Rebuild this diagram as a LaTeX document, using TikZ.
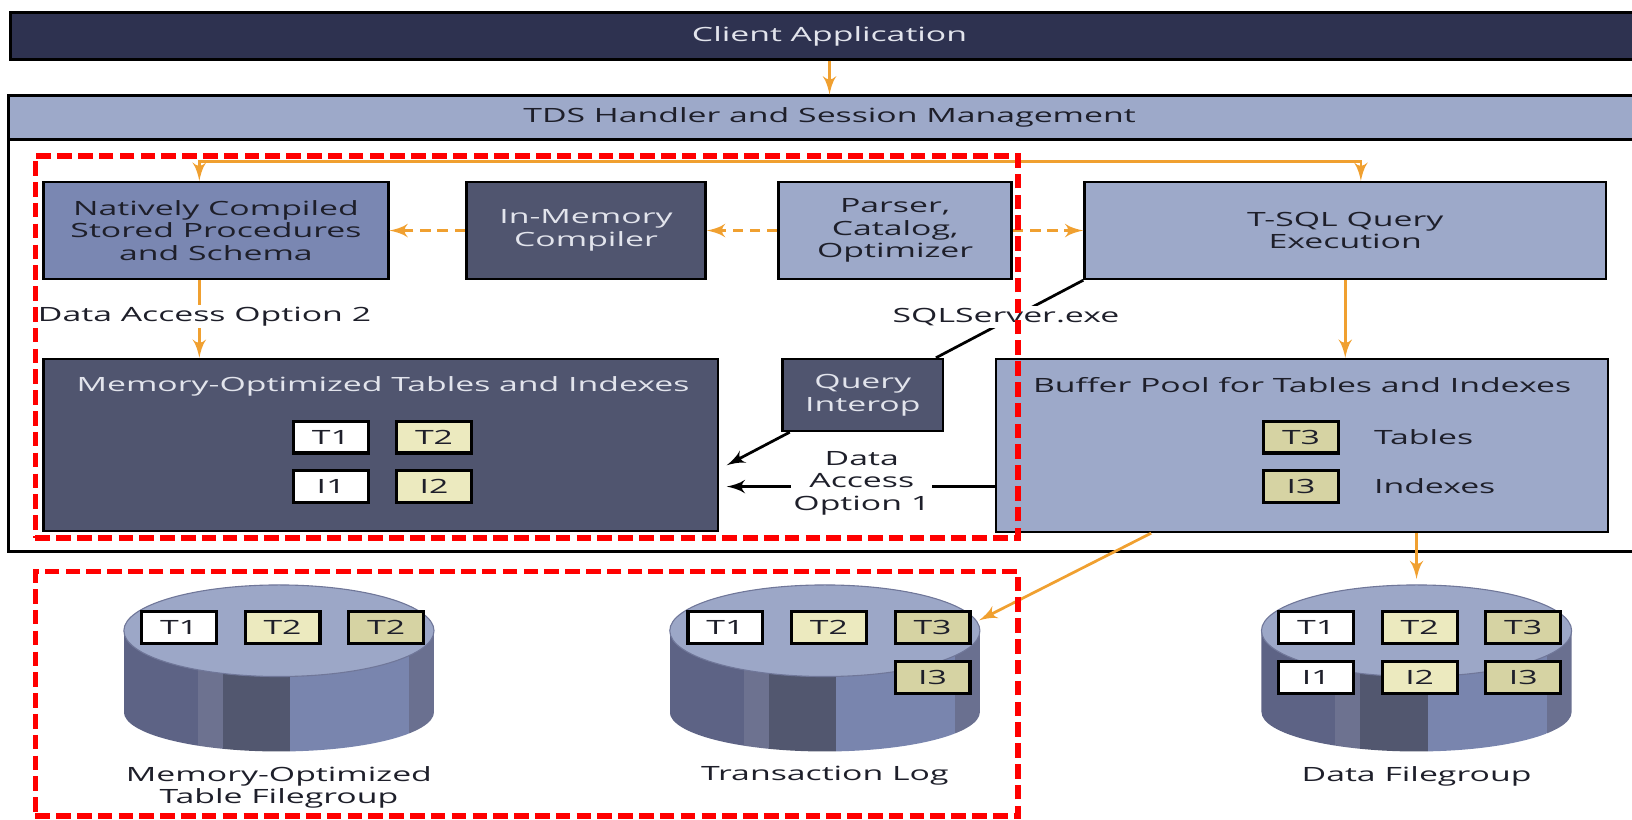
\documentclass[tikz,border=0pt]{standalone}
\usepackage{fontspec}
\setmainfont{Open Sans}[FakeStretch=1.72]
\usetikzlibrary{arrows,positioning,fit,calc}
\definecolor{navy}{HTML}{2E3250}
\definecolor{slate}{HTML}{50556F}
\definecolor{steel}{HTML}{7A87B2}
\definecolor{haze}{HTML}{9DA9C9}
\definecolor{cream}{HTML}{ECEABF}
\definecolor{khaki}{HTML}{D6D3A3}
\definecolor{amber}{HTML}{F0A030}
\definecolor{pale}{HTML}{E2E4EC}
\definecolor{ink}{HTML}{1E1F2A}
\definecolor{cylA}{HTML}{5D6385}
\definecolor{cylB}{HTML}{6D7290}
\definecolor{cylC}{HTML}{52576F}
\definecolor{cylD}{HTML}{7985AE}
\definecolor{cylE}{HTML}{6A7090}
\definecolor{cylT}{HTML}{9CA7C7}

\begin{document}
\begin{tikzpicture}
[x=0.1mm, y=-0.1mm, >=latex', font=\fontsize{5.37}{6.15}\selectfont,
block/.style = {draw, line width=0.7pt, align=center, inner sep=0pt},
dblock/.style = {block, fill=slate, text=pale},
mblock/.style = {block, fill=steel, text=ink},
lblock/.style = {block, fill=haze, text=ink},
tbl/.style = {draw, line width=0.85pt, fill=white, text=ink, minimum width=7.2mm, minimum height=3.05mm, inner sep=0pt},
txt/.style = {text=ink, align=center, inner sep=0pt},
oline/.style = {draw, amber, line width=0.75pt},
odash/.style = {oline, dash pattern=on 1mm off 0.65mm},
bline/.style = {draw, black, line width=0.75pt},
lbl/.style = {fill=white, text=ink, align=center, inner sep=0.6pt},
redbox/.style = {draw=red, line width=1.45pt, dash pattern=on 1.4mm off 0.6mm, inner sep=0pt}]
\useasboundingbox (0,0) rectangle (1568,787);

\node[block, fill=navy, text=pale, minimum width=157.4mm, minimum height=4.5mm](client) at (797,34.5){Client Application};
\node[draw, line width=0.7pt, fit={(8,92)(1586,530)}, inner sep=0pt](srv){};
\node[lblock, minimum width=157.8mm, minimum height=4.2mm](tds) at (797,113){TDS Handler and Session Management};

\node[mblock, minimum width=33.1mm, minimum height=9.3mm](ncsp) at (207.5,221.5){Natively Compiled\\Stored Procedures\\and Schema};
\node[dblock, minimum width=23mm, minimum height=9.3mm](imc) at (563,221.5){In-Memory\\Compiler};
\node[lblock, minimum width=22.4mm, minimum height=9.3mm](pco) at (860,221.5){Parser,\\Catalog,\\Optimizer};
\node[lblock, minimum width=50.1mm, minimum height=9.3mm](tsql) at (1292.5,221.5){T-SQL Query\\Execution};

\node[dblock, minimum width=64.8mm, minimum height=16.5mm](memopt) at (366,427.5){};
\node[txt, text=pale](memoptT) at ($(memopt.north)+(2,27)$){Memory-Optimized Tables and Indexes};
\node[dblock, minimum width=15.4mm, minimum height=6.9mm](qi) at (829,379.5){Query\\Interop};
\node[lblock, minimum width=58.8mm, minimum height=16.6mm](bp) at (1251,428){};
\node[txt](bpT) at ($(bp.north)+(0,26)$){Buffer Pool for Tables and Indexes};

\node[tbl](m1) at (318,420){T1};
\node[tbl, fill=cream, right=2.4mm of m1](m2){T2};
\node[tbl, below=1.4mm of m1](m3){I1};
\node[tbl, fill=cream, below=1.4mm of m2](m4){I2};

\node[tbl, fill=khaki](b1) at (1250,420){T3};
\node[tbl, fill=khaki, below=1.4mm of b1](b2){I3};
\node[txt, right=3.2mm of b1](b1L){Tables};
\node[txt, right=3.2mm of b2](b2L){Indexes};

\foreach \cx in {268,792.5,1361}{
\begin{scope}
\clip (\cx-149,606) -- (\cx-149,684) arc[start angle=180, end angle=0, x radius=149, y radius=38] -- (\cx+149,606) -- cycle;
\fill[cylA] (\cx-149,560) rectangle (\cx-78,730);
\fill[cylB] (\cx-78,560) rectangle (\cx-54,730);
\fill[cylC] (\cx-54,560) rectangle (\cx+11,730);
\fill[cylD] (\cx+11,560) rectangle (\cx+125,730);
\fill[cylE] (\cx+125,560) rectangle (\cx+149,730);
\end{scope}
\filldraw[fill=cylT, draw=cylA!70!cylT, line width=0.3pt] (\cx,606) ellipse[x radius=149, y radius=44];
}
\node[minimum width=29.8mm, minimum height=16mm, inner sep=0pt](cyl1) at (268,642){};
\node[minimum width=29.5mm, minimum height=16mm, inner sep=0pt](cyl2) at (792.5,642){};
\node[minimum width=29.8mm, minimum height=16mm, inner sep=0pt](cyl3) at (1361,642){};

\node[tbl](c11) at (172,603){T1};
\node[tbl, fill=cream, right=2.45mm of c11](c12){T2};
\node[tbl, fill=khaki, right=2.45mm of c12](c13){T2};

\node[tbl](c21) at (697,603){T1};
\node[tbl, fill=cream, right=2.45mm of c21](c22){T2};
\node[tbl, fill=khaki, right=2.45mm of c22](c23){T3};
\node[tbl, fill=khaki, below=1.45mm of c23](c24){I3};

\node[tbl](c31) at (1264.5,603){T1};
\node[tbl, fill=cream, right=2.45mm of c31](c32){T2};
\node[tbl, fill=khaki, right=2.45mm of c32](c33){T3};
\node[tbl, below=1.45mm of c31](c34){I1};
\node[tbl, fill=cream, below=1.45mm of c32](c35){I2};
\node[tbl, fill=khaki, below=1.45mm of c33](c36){I3};

\node[txt, below=1.3mm of cyl1](cyl1L){Memory-Optimized\\Table Filegroup};
\node[txt, below=1.3mm of cyl2](cyl2L){Transaction Log};
\node[txt, below=1.3mm of cyl3](cyl3L){Data Filegroup};

\coordinate (bus) at (797,155);
\coordinate (da2) at ($(ncsp.south)+(-16,0)$);
\path[oline,->] (client) edge (tds);
\draw[oline,<->] ($(ncsp.north)+(-16,0)$) |- (bus) -| ($(tsql.north)+(15,0)$);
\path[odash,->] (imc) edge (ncsp) (pco) edge (imc) (pco) edge (tsql);
\draw[oline,->] (da2) -- (da2 |- memopt.north);
\node[lbl](da2L) at (196.5,304){Data Access Option 2};
\draw[oline,->] (tsql.south) -- (tsql.south |- bp.north);
\draw[bline] (tsql.south west) -- ($(qi.north east)+(-8,0)$);
\node[lbl](sqlL) at (966.5,305){SQLServer.exe};
\draw[bline,->] ($(qi.south west)+(8,0)$) -- ($(memopt.east)+(7,19.5)$);
\draw[bline,->] (bp.west |- b2) -- ($(memopt.east |- b2)+(7,0)$);
\node[lbl](da1L) at (828,464){Data\\Access\\Option 1};
\draw[oline,->] ($(bp.south)+(-145,0)$) -- ($(cyl2.east)+(0,-46)$);
\draw[oline,->] (bp.south -| cyl3.north) -- ($(cyl3.north)+(0,-5)$);

\node[redbox, fit={(34,150)(978,517)}](sel1){};
\node[redbox, fit={(34,549)(978,784)}](sel2){};

\end{tikzpicture}
\end{document}
